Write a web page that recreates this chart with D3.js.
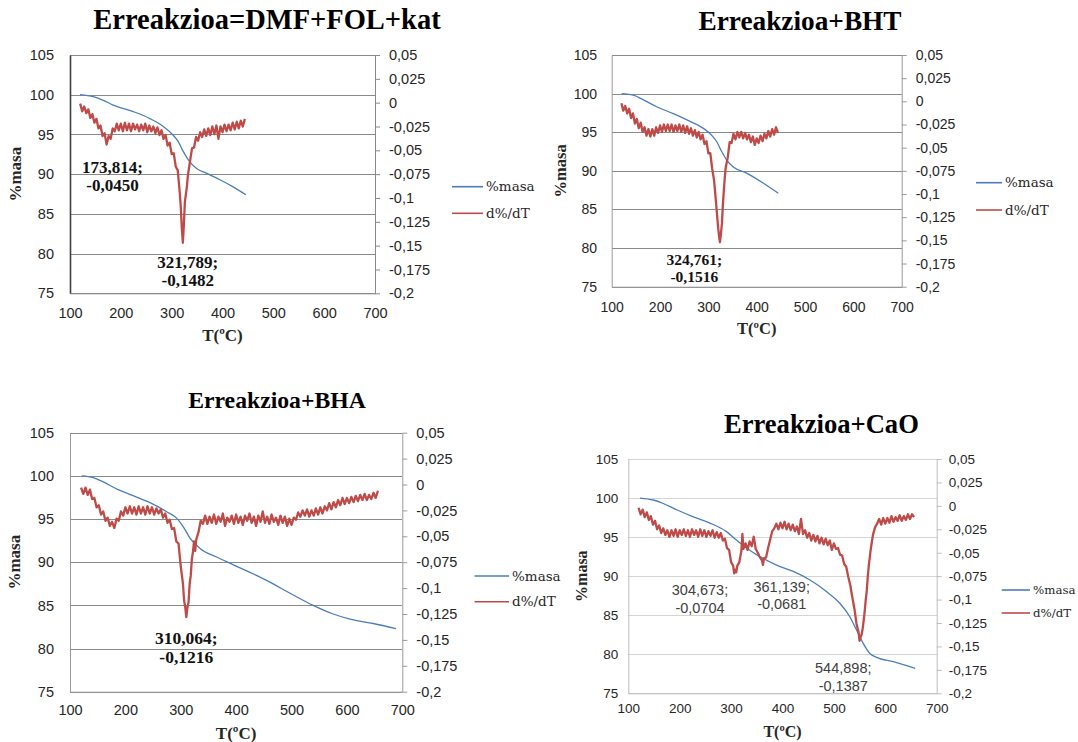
<!DOCTYPE html>
<html>
<head>
<meta charset="utf-8">
<script src="https://cdnjs.cloudflare.com/ajax/libs/d3/7.8.5/d3.min.js"></script>
<style>
    body { margin: 0; background: #fff; }
</style>
</head>
<body>
<div id="tga"></div>
<script>

// shared axis values / tick labels
var tempTicks = [100, 200, 300, 400, 500, 600, 700];
var massTicks = [75, 80, 85, 90, 95, 100, 105];
var dtgTicks = [0.05, 0.025, 0, -0.025, -0.05, -0.075, -0.1, -0.125, -0.15, -0.175, -0.2];
var dtgTickLabels = ["0,05", "0,025", "0", "-0,025", "-0,05", "-0,075", "-0,1", "-0,125", "-0,15", "-0,175", "-0,2"];
var seriesNames = ["%masa", "d%/dT"];

// %masa  [T, %]
var massA = [[119.7,100],[146,99.75],[165.6,99.3],[185,98.7],[224.6,97.87],[257,97.0],[283.6,96.0],[303,94.9],[313,94.1],[321.6,93.0],[332.8,91.8],[349,90.7],[369,90.1],[395,89.3],[421,88.4],[446,87.4]];
var massB = [[120.7,100],[144.8,99.8],[165.5,99.2],[193,98.3],[227.6,97.4],[262,96.4],[289.7,95.5],[307,94.6],[317,93.8],[327.6,92.5],[338,91.4],[351.7,90.5],[379,89.7],[413.8,88.4],[444.8,87.1]];
var massC = [[121,100],[142,99.8],[160,99.3],[187,98.4],[214,97.7],[244.4,96.9],[274.5,95.85],[292.6,95.1],[304.6,94.1],[316.6,92.8],[334.7,91.6],[364.8,90.6],[395,89.7],[455,87.9],[503,86.2],[539,85.0],[575.4,84.0],[605.5,83.4],[647.6,82.9],[688.5,82.3]];
var massD = [[122.7,100],[148.6,99.75],[168,99.3],[194,98.5],[226.5,97.6],[259,96.8],[291,95.7],[311,94.6],[330,93.6],[356,92.5],[388.6,91.4],[421,90.6],[453.5,89.5],[486,88.0],[512,86.5],[531,84.8],[544,83.1],[557,81.4],[570,80.1],[583,79.6],[615.7,79.05],[658,78.2]];

// d%/dT  [T, value x1000]
var dtgA = [[120,-1],[124,-9],[128,-4],[132,-11],[136,-7],[140,-16],[144,-12],[148,-21],[152,-17],[156,-27],[160,-24],[164,-35],[168,-32],[172,-44],[176,-35],[180,-38],[184,-27],[188,-30],[192,-22],[196,-29],[200,-22],[204,-30],[208,-21],[212,-29],[216,-22],[220,-30],[224,-22],[228,-28],[232,-23],[236,-30],[240,-23],[244,-29],[248,-22],[252,-31],[256,-24],[260,-30],[264,-25],[268,-32],[272,-26],[276,-34],[280,-29],[284,-38],[288,-34],[292,-45],[296,-42],[300,-54],[304,-53],[308,-67],[312,-71],[316,-95],[318,-110],[320,-132],[322,-147],[324,-128],[326,-104],[328,-96],[330,-88],[332,-76],[336,-62],[340,-48],[344,-47],[348,-36],[352,-40],[356,-31],[360,-36],[364,-28],[368,-35],[372,-27],[376,-34],[380,-25],[384,-33],[388,-24],[392,-38],[396,-25],[400,-31],[404,-23],[408,-30],[412,-23],[416,-29],[420,-21],[424,-28],[428,-20],[432,-27],[436,-19],[440,-25],[444,-17]];
var dtgB = [[120,-2],[124,-10],[128,-5],[132,-13],[136,-8],[140,-18],[144,-13],[148,-24],[152,-19],[156,-29],[160,-23],[164,-33],[168,-28],[172,-37],[176,-30],[180,-38],[184,-30],[188,-37],[192,-28],[196,-34],[200,-26],[204,-33],[208,-25],[212,-32],[216,-25],[220,-32],[224,-25],[228,-33],[232,-26],[236,-32],[240,-25],[244,-33],[248,-26],[252,-34],[256,-27],[260,-35],[264,-29],[268,-37],[272,-31],[276,-39],[280,-33],[284,-41],[288,-36],[292,-46],[296,-43],[300,-56],[304,-56],[308,-73],[312,-86],[316,-110],[320,-135],[322,-145],[324,-152],[326,-143],[328,-132],[330,-112],[332,-96],[334,-82],[336,-71],[340,-61],[344,-44],[348,-45],[352,-35],[356,-41],[360,-33],[364,-39],[368,-33],[372,-40],[376,-34],[380,-41],[384,-36],[388,-44],[392,-38],[396,-47],[400,-40],[404,-45],[408,-37],[412,-43],[416,-35],[420,-40],[424,-32],[428,-38],[432,-30],[436,-36],[440,-28],[444,-34]];
var dtgC = [[120,-3],[124,-9],[128,-3],[132,-10],[136,-5],[140,-14],[144,-13],[148,-22],[152,-20],[156,-29],[160,-26],[164,-35],[168,-32],[172,-40],[176,-36],[180,-42],[184,-33],[188,-35],[192,-26],[196,-30],[200,-22],[204,-28],[208,-21],[212,-28],[216,-22],[220,-29],[224,-21],[228,-28],[232,-22],[236,-29],[240,-21],[244,-28],[248,-22],[252,-29],[256,-23],[260,-28],[264,-24],[268,-32],[272,-28],[276,-37],[280,-34],[284,-43],[288,-42],[292,-55],[296,-57],[300,-79],[304,-96],[306,-112],[308,-118],[310,-128],[312,-119],[314,-114],[316,-96],[318,-88],[320,-72],[322,-65],[324,-55],[326,-64],[328,-53],[332,-46],[336,-35],[340,-38],[344,-30],[348,-38],[352,-31],[356,-37],[360,-29],[364,-38],[368,-31],[372,-36],[376,-28],[380,-40],[384,-32],[388,-36],[392,-30],[396,-38],[400,-29],[404,-37],[408,-31],[412,-39],[416,-30],[420,-35],[424,-28],[428,-37],[432,-31],[436,-40],[440,-30],[444,-36],[448,-26],[452,-37],[456,-31],[460,-38],[464,-29],[468,-36],[472,-32],[476,-39],[480,-30],[484,-37],[488,-31],[492,-40],[496,-33],[500,-39],[504,-32],[508,-34],[512,-27],[516,-31],[520,-25],[524,-30],[528,-24],[532,-31],[536,-25],[540,-30],[544,-23],[548,-29],[552,-22],[556,-28],[560,-21],[564,-25],[568,-18],[572,-24],[576,-17],[580,-22],[584,-15],[588,-20],[592,-13],[596,-19],[600,-13],[604,-18],[608,-12],[612,-17],[616,-11],[620,-16],[624,-10],[628,-15],[632,-9],[636,-15],[640,-10],[644,-14],[648,-8],[652,-13],[656,-6]];
var dtgD = [[120,-2],[124,-9],[128,-4],[132,-12],[136,-7],[140,-15],[144,-11],[148,-20],[152,-16],[156,-25],[160,-21],[164,-29],[168,-24],[172,-31],[176,-26],[180,-33],[184,-26],[188,-32],[192,-25],[196,-33],[200,-26],[204,-31],[208,-25],[212,-32],[216,-26],[220,-33],[224,-25],[228,-31],[232,-26],[236,-33],[240,-25],[244,-32],[248,-26],[252,-33],[256,-27],[260,-32],[264,-26],[268,-34],[272,-28],[276,-34],[280,-29],[284,-37],[288,-35],[292,-45],[296,-47],[300,-60],[304,-64],[306,-72],[308,-68],[310,-71],[312,-64],[316,-60],[320,-48],[322,-30],[324,-46],[328,-40],[332,-47],[336,-38],[340,-43],[344,-33],[348,-46],[352,-50],[356,-55],[360,-58],[362,-63],[364,-56],[368,-55],[372,-45],[376,-36],[380,-27],[384,-24],[388,-19],[392,-25],[396,-18],[400,-24],[404,-17],[408,-25],[412,-19],[416,-26],[420,-20],[424,-27],[428,-22],[432,-30],[436,-14],[440,-30],[444,-26],[448,-34],[452,-29],[456,-37],[460,-31],[464,-38],[468,-32],[472,-40],[476,-34],[480,-41],[484,-35],[488,-42],[492,-37],[496,-47],[500,-40],[504,-46],[508,-45],[512,-52],[516,-53],[520,-62],[524,-65],[528,-76],[532,-85],[536,-98],[540,-110],[544,-126],[548,-135],[550,-144],[552,-140],[554,-137],[556,-131],[558,-122],[560,-112],[562,-100],[564,-90],[566,-75],[568,-63],[570,-54],[572,-45],[574,-38],[576,-31],[580,-23],[584,-19],[588,-14],[592,-20],[596,-13],[600,-19],[604,-13],[608,-18],[612,-11],[616,-17],[620,-12],[624,-16],[628,-10],[632,-16],[636,-11],[640,-15],[644,-9],[648,-14],[652,-9],[656,-12]];

// marked peaks [T, d%/dT]
var peaksA = [[173.814, -0.0450], [321.789, -0.1482]];
var peaksB = [[324.761, -0.1516]];
var peaksC = [[310.064, -0.1216]];
var peaksD = [[304.673, -0.0704], [361.139, -0.0681], [544.898, -0.1387]];

var blue = "#4a7ebb", red = "#be4b48";
var locale = d3.formatLocale({decimal: ",", thousands: ".", grouping: [3], currency: ["", ""], minus: "-"});
var fmtT = locale.format(".3f"), fmtV = locale.format(".4f");

var panels = [
    {title: "Erreakzioa=DMF+FOL+kat", mass: massA, dtg: dtgA, peaks: peaksA,
     box: {left: 70, right: 375, top: 55, bottom: 293.3},
     titleX: 267, titleY: 29.3, titleSize: 28.5,
     leftLabelRight: 54, xLabelDy: 20, yTitleX: 15, xTitleDy: 42, axisTitleSize: 17,
     tickSize: 14.5, legendX: 452, legendLen: 31, legendY: [186.7, 213.3], legendSize: 13.5,
     peakOffsets: [[5, 21.4], [5, 17.8]], peakGap: 18.5, peakSize: 17, peakBold: true,
     grid: "#8a8a8a", axis: "#8a8a8a", leftAxis: "#404040", rightGap: 14},
    {title: "Erreakzioa+BHT", mass: massB, dtg: dtgB, peaks: peaksB,
     box: {left: 611.7, right: 901.7, top: 55, bottom: 286.7},
     titleX: 800, titleY: 30, titleSize: 27.3,
     leftLabelRight: 597, xLabelDy: 20, yTitleX: 560.7, xTitleDy: 41.6, axisTitleSize: 16.5,
     tickSize: 14, legendX: 976, legendLen: 26, legendY: [182.7, 210], legendSize: 13.5,
     peakOffsets: [[-26, 18.2]], peakGap: 16.7, peakSize: 15.5, peakBold: true,
     grid: "#8a8a8a", axis: "#9a9a9a", leftAxis: "#9a9a9a", rightGap: 14},
    {title: "Erreakzioa+BHA", mass: massC, dtg: dtgC, peaks: peaksC,
     box: {left: 70, right: 402.3, top: 432.7, bottom: 691.7},
     titleX: 277, titleY: 408.3, titleSize: 23.7,
     leftLabelRight: 54, xLabelDy: 18.3, yTitleX: 14, xTitleDy: 41, axisTitleSize: 17,
     tickSize: 14.5, legendX: 474.5, legendLen: 34.5, legendY: [576, 601.7], legendSize: 13.5,
     peakOffsets: [[0, 27.8]], peakGap: 19, peakSize: 17.5, peakBold: true,
     grid: "#8a8a8a", axis: "#9a9a9a", leftAxis: "#9a9a9a", rightGap: 14},
    {title: "Erreakzioa+CaO", mass: massD, dtg: dtgD, peaks: peaksD,
     box: {left: 628.3, right: 936.7, top: 459, bottom: 693.3},
     titleX: 821.4, titleY: 433.3, titleSize: 26.6,
     leftLabelRight: 618.3, xLabelDy: 15, yTitleX: 581.7, xTitleDy: 38.4, axisTitleSize: 16,
     tickSize: 13.5, legendX: 1001.7, legendLen: 28.3, legendY: [590, 613], legendSize: 11.8,
     peakOffsets: [[-33.5, 18.2], [19.2, 17], [-13.7, 32.4]], peakGap: 17.5, peakSize: 14.5, peakBold: false,
     grid: "#d4d4d4", axis: "#bdbdbd", leftAxis: "#bdbdbd", rightGap: 12}
];


// object for one TGA panel
TgaChart = function(_svg, _cfg){
    this.svg = _svg;
    this.cfg = _cfg;
    this.initVis();
}

TgaChart.prototype.initVis = function(){
    var vis = this, c = vis.cfg, b = c.box;
    vis.g = vis.svg.append("g");

    vis.x = d3.scaleLinear().domain([100, 700]).range([b.left, b.right]);
    vis.yMass = d3.scaleLinear().domain([75, 105]).range([b.bottom, b.top]);
    vis.yDtg = d3.scaleLinear().domain([-0.2, 0.05]).range([b.bottom, b.top]);

    var sansFont = "'Liberation Sans', Arial, sans-serif";

    // horizontal gridlines
    vis.g.append("g")
        .attr("transform", "translate(" + b.left + ",0)")
        .call(d3.axisLeft(vis.yMass).tickValues(massTicks).tickSize(-(b.right - b.left)).tickFormat(""))
        .call(function(g){ g.select(".domain").remove(); })
        .selectAll("line").attr("stroke", c.grid).attr("shape-rendering", "crispEdges");

    // left axis (%masa)
    var left = vis.g.append("g")
        .attr("transform", "translate(" + b.left + ",0)")
        .call(d3.axisLeft(vis.yMass).tickValues(massTicks).tickSize(0).tickSizeOuter(0)
            .tickPadding(b.left - c.leftLabelRight).tickFormat(d3.format("d")));
    left.select(".domain").attr("stroke", c.leftAxis).attr("stroke-width", c.leftAxis == "#404040" ? 1.6 : 1);
    left.attr("font-size", c.tickSize).attr("font-family", sansFont);
    left.selectAll("text").attr("fill", "#262626");

    // bottom axis (T)
    var bottom = vis.g.append("g")
        .attr("transform", "translate(0," + b.bottom + ")")
        .call(d3.axisBottom(vis.x).tickValues(tempTicks).tickSize(0).tickSizeOuter(0));
    bottom.select(".domain").attr("stroke", c.axis);
    bottom.attr("font-size", c.tickSize).attr("font-family", sansFont);
    bottom.selectAll("text").attr("y", c.xLabelDy).attr("dy", "0.35em").attr("fill", "#262626");

    // right axis (d%/dT)
    var right = vis.g.append("g")
        .attr("transform", "translate(" + b.right + ",0)")
        .call(d3.axisRight(vis.yDtg).tickValues(dtgTicks).tickSize(5).tickSizeOuter(0)
            .tickPadding(c.rightGap - 5).tickFormat(function(d, i){ return dtgTickLabels[i]; }));
    right.select(".domain").attr("stroke", c.axis);
    right.selectAll("line").attr("stroke", c.axis);
    right.attr("font-size", c.tickSize).attr("font-family", sansFont);
    right.selectAll("text").attr("fill", "#262626");

    this.updateVis();
};

TgaChart.prototype.updateVis = function(){
    var vis = this, c = vis.cfg, b = c.box;
    var serif = "'Liberation Serif', 'Times New Roman', serif";

    vis.massLine = d3.line()
        .curve(d3.curveMonotoneX)
        .x(function(d){ return vis.x(d[0]); })
        .y(function(d){ return vis.yMass(d[1]); });

    vis.dtgLine = d3.line()
        .x(function(d){ return vis.x(d[0]); })
        .y(function(d){ return vis.yDtg(d[1] / 1000); });

    vis.g.append("path")
        .datum(c.mass)
        .attr("fill", "none")
        .attr("stroke", blue)
        .attr("stroke-width", 1.3)
        .attr("d", vis.massLine);

    // noisy derivative drawn a bit heavier so it reads as a band
    vis.g.append("path")
        .datum(c.dtg)
        .attr("fill", "none")
        .attr("stroke", red)
        .attr("stroke-width", 2.3)
        .attr("stroke-linejoin", "round")
        .attr("d", vis.dtgLine);

    // peak labels
    c.peaks.forEach(function(pk, i){
        var px = vis.x(pk[0]) + c.peakOffsets[i][0],
            py = vis.yDtg(pk[1]) + c.peakOffsets[i][1];
        var t = vis.g.append("text")
            .attr("text-anchor", "middle")
            .attr("font-family", c.peakBold ? serif : "'Liberation Sans', Arial, sans-serif")
            .attr("font-weight", c.peakBold ? "bold" : "normal")
            .attr("font-size", c.peakSize)
            .attr("fill", c.peakBold ? "#111" : "#404040");
        t.append("tspan").attr("x", px).attr("y", py).attr("dy", "0.35em").text(fmtT(pk[0]) + ";");
        t.append("tspan").attr("x", px).attr("y", py + c.peakGap).attr("dy", "0.35em").text(fmtV(pk[1]));
    });

    // title
    vis.g.append("text")
        .attr("x", c.titleX)
        .attr("y", c.titleY)
        .attr("text-anchor", "middle")
        .attr("font-family", serif)
        .attr("font-weight", "bold")
        .attr("font-size", c.titleSize)
        .attr("fill", "#000")
        .text(c.title);

    // axis titles
    vis.g.append("text")
        .attr("x", (b.left + b.right) / 2)
        .attr("y", b.bottom + c.xTitleDy)
        .attr("dy", "0.35em")
        .attr("text-anchor", "middle")
        .attr("font-family", serif)
        .attr("font-weight", "bold")
        .attr("font-size", c.axisTitleSize)
        .attr("fill", "#262626")
        .text("T(ºC)");

    vis.g.append("text")
        .attr("transform", "translate(" + c.yTitleX + "," + (b.top + b.bottom) / 2 + ") rotate(-90)")
        .attr("dy", "0.35em")
        .attr("text-anchor", "middle")
        .attr("font-family", serif)
        .attr("font-weight", "bold")
        .attr("font-size", c.axisTitleSize)
        .attr("fill", "#262626")
        .text("%masa");

    // legend
    var colors = [blue, red];
    seriesNames.forEach(function(name, i){
        vis.g.append("line")
            .attr("x1", c.legendX).attr("x2", c.legendX + c.legendLen)
            .attr("y1", c.legendY[i]).attr("y2", c.legendY[i])
            .attr("stroke", colors[i]).attr("stroke-width", 1.6);
        vis.g.append("text")
            .attr("x", c.legendX + c.legendLen + 3)
            .attr("y", c.legendY[i])
            .attr("dy", "0.35em")
            .attr("font-family", "'DejaVu Serif', serif")
            .attr("font-size", c.legendSize)
            .attr("fill", "#262626")
            .text(name);
    });
};


var svg = d3.select("#tga").append("svg")
    .attr("width", 1078)
    .attr("height", 742);

panels.forEach(function(p){ new TgaChart(svg, p); });

</script>
</body>
</html>
